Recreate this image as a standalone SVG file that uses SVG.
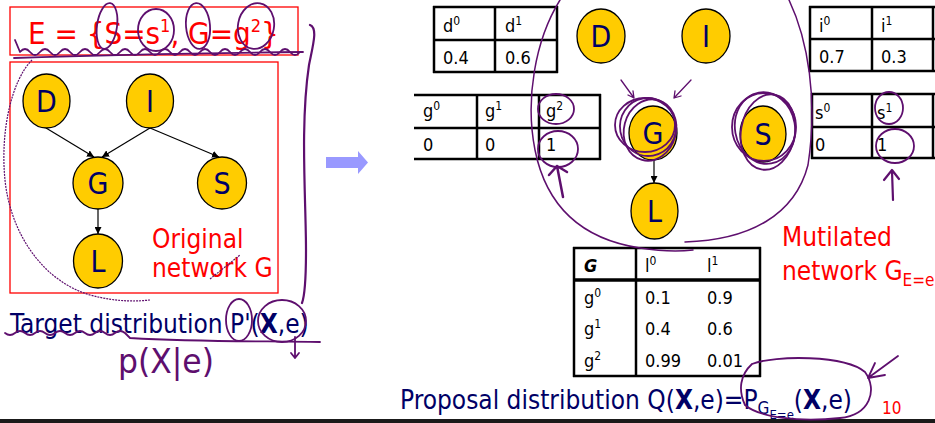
<svg xmlns="http://www.w3.org/2000/svg" width="935" height="423" viewBox="0 0 935 423">
<defs>
<style>
text{font-family:"DejaVu Sans Condensed","DejaVu Sans",sans-serif;}
.node ellipse{fill:#FFCC00;stroke:#000;stroke-width:1.3;}
.node text{fill:#000066;font-size:30px;text-anchor:middle;}
.red{fill:#FF0000;}
.navy{fill:#000066;}
.tbl line{stroke:#000;stroke-width:2.5;}
.tbl text{fill:#000;font-size:18px;}
.edge{stroke:#000;stroke-width:1.2;fill:none;marker-end:url(#ah);}
.ink{fill:none;stroke:#5E0F6E;stroke-width:1.8;stroke-linecap:round;stroke-linejoin:round;}
.inkthin{fill:none;stroke:#5E0F6E;stroke-width:1.2;stroke-dasharray:2 1;}
</style>
<marker id="ah" viewBox="0 0 10 10" refX="10" refY="5" markerWidth="7" markerHeight="7" orient="auto" markerUnits="userSpaceOnUse"><path d="M0,0 L10,5 L0,10 z" fill="#000"/></marker>
</defs>
<rect width="935" height="423" fill="#fff"/>

<!-- Left: evidence box and original network -->
<rect x="10" y="7" width="288" height="48" fill="none" stroke="#FF0000" stroke-width="1.3"/>
<text x="28" y="44" class="red" font-size="31">E = {S=s<tspan font-size="18" dy="-12">1</tspan><tspan dy="12">, G=g</tspan><tspan font-size="18" dy="-12">2</tspan><tspan dy="12">}</tspan></text>
<rect x="10" y="62" width="268" height="231" fill="none" stroke="#FF0000" stroke-width="1.3"/>

<g id="connectors-left">
<line class="edge" x1="46" y1="128" x2="94" y2="157"/>
<line class="edge" x1="150" y1="128" x2="102" y2="157"/>
<line class="edge" x1="150" y1="128" x2="219" y2="157"/>
<line class="edge" x1="98" y1="209" x2="98" y2="234"/>
</g>
<g id="D1" class="node"><ellipse cx="46.5" cy="101" rx="23.5" ry="27"/><text x="46.5" y="112">D</text></g>
<g id="I1" class="node"><ellipse cx="150" cy="101" rx="23.5" ry="27"/><text x="150" y="112">I</text></g>
<g id="G1" class="node"><ellipse cx="98" cy="183" rx="25" ry="26"/><text x="98" y="194">G</text></g>
<g id="S1" class="node"><ellipse cx="222" cy="183" rx="24.5" ry="26"/><text x="222" y="194">S</text></g>
<g id="L1" class="node"><ellipse cx="98" cy="261" rx="24.5" ry="27"/><text x="98" y="272">L</text></g>
<text x="152" y="248" class="red" font-size="26">Original</text>
<text x="152" y="277" class="red" font-size="26">network G</text>

<text x="10" y="333" class="navy" font-size="26">Target distribution P'(<tspan font-weight="bold">X</tspan>,e)</text>

<!-- arrow -->
<path d="M326,157 H358 V151 L368,162.5 L358,174 V168 H326 z" fill="#9999FF"/>

<!-- Right: mutilated network -->
<g id="connectors-right">
<line class="edge" x1="654" y1="160" x2="654" y2="183"/>
</g>
<g id="D2" class="node"><ellipse cx="601" cy="36" rx="24" ry="27"/><text x="601" y="47">D</text></g>
<g id="I2" class="node"><ellipse cx="706" cy="36" rx="24" ry="27"/><text x="706" y="47">I</text></g>
<g id="G2" class="node"><ellipse cx="653" cy="133" rx="24" ry="27"/><text x="653" y="144">G</text></g>
<g id="S2" class="node"><ellipse cx="763" cy="134" rx="23" ry="28"/><text x="763" y="145">S</text></g>
<g id="L2" class="node"><ellipse cx="654.5" cy="211" rx="23.5" ry="28"/><text x="654.5" y="222">L</text></g>

<!-- D table -->
<g id="tblD" class="tbl">
<line x1="433" y1="7" x2="558" y2="7"/><line x1="433" y1="40" x2="558" y2="40"/><line x1="433" y1="72" x2="558" y2="72"/>
<line x1="434" y1="6" x2="434" y2="73"/><line x1="495" y1="6" x2="495" y2="73"/><line x1="557" y1="6" x2="557" y2="73"/>
<text x="443" y="32">d<tspan font-size="12" dy="-7">0</tspan></text>
<text x="505" y="32">d<tspan font-size="12" dy="-7">1</tspan></text>
<text x="443" y="64">0.4</text><text x="505" y="64">0.6</text>
</g>
<!-- I table -->
<g id="tblI" class="tbl">
<line x1="809" y1="7" x2="935" y2="7"/><line x1="809" y1="39" x2="935" y2="39"/><line x1="809" y1="71" x2="935" y2="71"/>
<line x1="810" y1="6" x2="810" y2="72"/><line x1="872" y1="6" x2="872" y2="72"/><line x1="933" y1="6" x2="933" y2="72"/>
<text x="819" y="32">i<tspan font-size="12" dy="-7">0</tspan></text>
<text x="881" y="32">i<tspan font-size="12" dy="-7">1</tspan></text>
<text x="819" y="63">0.7</text><text x="881" y="63">0.3</text>
</g>
<!-- G table -->
<g id="tblG" class="tbl">
<line x1="414" y1="95" x2="601" y2="95"/><line x1="414" y1="128" x2="601" y2="128"/><line x1="414" y1="159" x2="601" y2="159"/>
<line x1="477" y1="94" x2="477" y2="160"/><line x1="539" y1="94" x2="539" y2="160"/><line x1="600" y1="94" x2="600" y2="160"/>
<text x="423" y="117">g<tspan font-size="12" dy="-7">0</tspan></text>
<text x="485" y="117">g<tspan font-size="12" dy="-7">1</tspan></text>
<text x="546" y="117">g<tspan font-size="12" dy="-7">2</tspan></text>
<text x="423" y="151">0</text><text x="485" y="151">0</text><text x="546" y="151">1</text>
</g>
<!-- S table -->
<g id="tblS" class="tbl">
<line x1="811" y1="94" x2="935" y2="94"/><line x1="811" y1="127" x2="935" y2="127"/><line x1="811" y1="158" x2="935" y2="158"/>
<line x1="812" y1="93" x2="812" y2="159"/><line x1="872" y1="93" x2="872" y2="159"/><line x1="933" y1="93" x2="933" y2="159"/>
<text x="815" y="119">s<tspan font-size="12" dy="-7">0</tspan></text>
<text x="877" y="119">s<tspan font-size="12" dy="-7">1</tspan></text>
<text x="815" y="151">0</text><text x="877" y="151">1</text>
</g>
<!-- L table -->
<g id="tblL" class="tbl">
<line x1="573" y1="248" x2="761" y2="248"/><line x1="573" y1="280" x2="761" y2="280" style="stroke-width:3.5"/><line x1="573" y1="376" x2="761" y2="376"/>
<line x1="574" y1="247" x2="574" y2="377"/><line x1="636" y1="247" x2="636" y2="377"/><line x1="760" y1="247" x2="760" y2="377"/>
<text x="584" y="272" font-weight="bold" font-style="italic">G</text>
<text x="645" y="272">l<tspan font-size="12" dy="-7">0</tspan></text>
<text x="707" y="272">l<tspan font-size="12" dy="-7">1</tspan></text>
<text x="584" y="304">g<tspan font-size="12" dy="-7">0</tspan></text><text x="645" y="304">0.1</text><text x="707" y="304">0.9</text>
<text x="584" y="335">g<tspan font-size="12" dy="-7">1</tspan></text><text x="645" y="335">0.4</text><text x="707" y="335">0.6</text>
<text x="584" y="367">g<tspan font-size="12" dy="-7">2</tspan></text><text x="645" y="367">0.99</text><text x="707" y="367">0.01</text>
</g>

<text x="782" y="246" class="red" font-size="26">Mutilated</text>
<text x="782" y="280" class="red" font-size="26">network G<tspan font-size="17" dy="6">E=e</tspan></text>

<text x="400" y="409" class="navy" font-size="26">Proposal distribution Q(<tspan font-weight="bold">X</tspan>,e)=P<tspan font-size="17" dy="5">G</tspan><tspan font-size="13" dy="5">E=e</tspan><tspan dy="-10">(</tspan><tspan font-weight="bold">X</tspan>,e)</text>
<text x="882" y="414" class="red" font-size="17">10</text>

<rect x="0" y="419" width="935" height="4" fill="#1a1a1a"/>

<!-- handwritten ink annotations -->
<g id="ink">
<path class="ink" d="M15,40 L20,52 q5,-6 10,0 t10,0 t10,0 t10,0 t10,0 t10,0 t10,0 t10,0 t10,0 t10,0 t10,0 t10,0 t10,0 t10,0 t10,0 t10,0 t10,0 t10,0 t10,0 t10,0 t10,0 t10,0 t10,0 t10,0 t10,0 t10,0 t10,0 t10,0"/>
<path class="ink" d="M14,58 C100,55 200,53 303,52"/>
<ellipse class="ink" cx="107" cy="26" rx="10" ry="23" transform="rotate(8 107 26)"/>
<ellipse class="ink" cx="156" cy="30" rx="18" ry="21"/>
<ellipse class="ink" cx="198" cy="26" rx="12" ry="23" transform="rotate(-5 198 26)"/>
<ellipse class="ink" cx="256" cy="26" rx="18" ry="23" transform="rotate(10 256 26)"/>
<path class="inkthin" d="M32,60 C12,80 0,130 5,180 C10,230 40,280 90,295 C120,303 140,301 150,300"/>
<path class="inkthin" d="M210,279 L240,255"/>
<path class="ink" style="stroke-width:2.2" d="M310,25 C318,28 313,45 309,65 C300,125 306,200 306,250 C306,280 305,295 302,303"/>
<path class="ink" d="M5,333 q5,4 10,0 t10,0 t10,0 t10,0 t10,0 t10,0 t10,0 t10,0 t10,0 t10,0 t10,0 t10,0 L130,338 C200,342 260,341 320,342"/>
<ellipse class="ink" cx="239" cy="320" rx="13" ry="21"/>
<ellipse class="ink" cx="282" cy="321" rx="24" ry="21"/>
<path class="ink" d="M295,337 L295,358 M291,353 L295,358 L299,353"/>
<text x="118" y="373" font-size="34" fill="#5E0F6E" textLength="96" lengthAdjust="spacingAndGlyphs" style="font-family:'DejaVu Sans Condensed','DejaVu Sans',sans-serif">p(X|e)</text>
<path class="ink" style="stroke-width:1.5" d="M560,0 C535,40 525,100 535,150 C545,200 575,238 640,248 C665,252 685,251 693,250"/>
<path class="ink" style="stroke-width:1.5" d="M789,0 C808,40 818,100 808,165 C795,215 750,240 685,242"/>
<ellipse class="ink" cx="648" cy="127" rx="28" ry="29" transform="rotate(-10 648 127)"/>
<ellipse class="ink" cx="650" cy="130" rx="26" ry="31" transform="rotate(15 650 130)"/>
<ellipse class="ink" cx="645" cy="125" rx="30" ry="27"/>
<ellipse class="ink" cx="765" cy="128" rx="30" ry="36" transform="rotate(-10 765 128)"/>
<ellipse class="ink" cx="768" cy="132" rx="27" ry="38" transform="rotate(10 768 132)"/>
<ellipse class="ink" cx="764" cy="127" rx="32" ry="34"/>
<path class="ink" style="stroke-width:1.3" d="M621,80 L634,98 M628,95 L634,98 L633,91"/>
<path class="ink" style="stroke-width:1.3" d="M691,80 L674,98 M675,91 L674,98 L681,96"/>
<ellipse class="ink" cx="556" cy="109" rx="18" ry="15"/>
<ellipse class="ink" cx="558" cy="149" rx="20" ry="18"/>
<path class="ink" style="stroke-width:2.5" d="M563,197 L557,166 M549,175 L557,166 L567,172"/>
<ellipse class="ink" cx="889" cy="108" rx="14" ry="16"/>
<ellipse class="ink" cx="895" cy="146" rx="19" ry="17"/>
<path class="ink" style="stroke-width:2.2" d="M893,200 L892,171 M884,180 L892,170 L899,179"/>
<path class="ink" d="M752,364 C775,355 845,355 865,372 C878,390 870,415 840,418 C800,422 760,418 745,405 C738,390 740,375 752,364"/>
<path class="ink" d="M898,356 L868,378 M875,363 L868,378 L885,375"/>
</g>
</svg>
